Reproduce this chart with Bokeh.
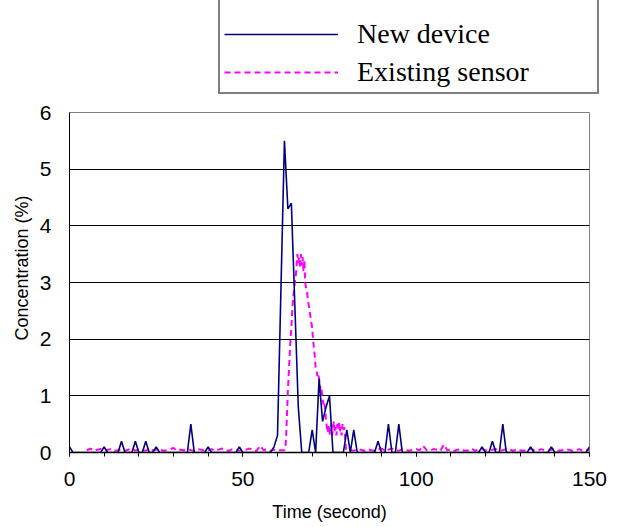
import numpy as np
from bokeh.plotting import figure
from bokeh.layouts import column, row
from bokeh.models import Range1d, Legend, LegendItem, FixedTicker, SingleIntervalTicker, Title
from bokeh.embed import file_html
from bokeh.resources import INLINE

# ---- data ----
# New device: one sample per second, t = 0..150
new_t = list(range(0, 151))
new_c = [
    0.1, 0, 0, 0, 0, 0, 0, 0, 0, 0,          # 0-9
    0.1, 0, 0, 0, 0, 0.2, 0, 0, 0, 0.2,      # 10-19
    0, 0, 0.2, 0, 0, 0.1, 0, 0, 0, 0,        # 20-29
    0, 0, 0, 0, 0, 0.5, 0, 0, 0, 0,          # 30-39
    0.1, 0, 0, 0, 0, 0, 0, 0, 0, 0.1,        # 40-49
    0, 0, 0, 0, 0, 0, 0, 0, 0, 0.1,          # 50-59
    0.3, 2.9, 5.5, 4.3, 4.4, 2.6, 0.8, 0, 0, 0,  # 60-69
    0.4, 0, 1.3, 0.55, 0.8, 1.0, 0, 0, 0, 0,     # 70-79
    0.4, 0, 0.4, 0, 0, 0, 0, 0, 0, 0.2,      # 80-89
    0, 0, 0.5, 0, 0, 0.5, 0, 0, 0, 0,        # 90-99
    0, 0, 0, 0, 0, 0, 0, 0, 0, 0,            # 100-109
    0, 0, 0, 0, 0, 0, 0, 0, 0, 0.1,          # 110-119
    0, 0, 0.2, 0, 0, 0.5, 0, 0, 0, 0,        # 120-129
    0, 0, 0, 0.1, 0, 0, 0, 0, 0, 0.1,        # 130-139
    0, 0, 0, 0, 0, 0, 0, 0, 0, 0,            # 140-149
    0.1,                                     # 150
]

# Existing sensor: baseline before the event (t = 5..61, 1 s)
ex_base1_t = list(range(5, 62))
ex_base1_c = [
    0.04, 0.07, 0.03, 0.05, 0.06, 0.03, 0.05, 0.06, 0.03, 0.04,
    0.06, 0.03, 0.05, 0.07, 0.03, 0.06, 0.04, 0.03, 0.06, 0.04,
    0.05, 0.07, 0.03, 0.04, 0.06, 0.08, 0.03, 0.05, 0.04, 0.06,
    0.04, 0.03, 0.06, 0.05, 0.03, 0.04, 0.06, 0.03, 0.05, 0.07,
    0.04, 0.03, 0.06, 0.04, 0.03, 0.06, 0.05, 0.07, 0.04, 0.03,
    0.12, 0.04, 0.06, 0.03, 0.05, 0.03, 0.04,
]
# Existing sensor: event (t = 62..80, every 0.25 s)
ex_peak_t = [62 + 0.25 * i for i in range(73)]
ex_peak_c = [
    0.04, 0.06, 0.3, 0.7, 1.1, 1.4, 1.7, 2.0, 2.2, 2.5,
    2.7, 2.85, 3.0, 3.1, 3.3, 3.5, 3.35, 3.45, 3.25, 3.5,
    3.3, 3.45, 3.2, 3.4, 3.0, 2.9, 2.85, 2.7, 2.6, 2.5,
    2.4, 2.3, 2.2, 2.0, 1.85, 1.7, 1.5, 1.45, 1.35, 1.4,
    1.3, 1.2, 1.05, 1.1, 0.95, 0.85, 0.9, 0.75, 0.55, 0.45,
    0.35, 0.5, 0.3, 0.45, 0.5, 0.3, 0.4, 0.55, 0.35, 0.45,
    0.3, 0.5, 0.4, 0.55, 0.35, 0.45, 0.3, 0.5, 0.4, 0.45,
    0.25, 0.06, 0.04,
]
# Existing sensor: baseline after the event (t = 81..150, 1 s)
ex_base2_t = list(range(81, 151))
ex_base2_c = [
    0.04, 0.03, 0.06, 0.05, 0.03, 0.06, 0.04, 0.03, 0.05, 0.07,
    0.03, 0.05, 0.07, 0.04, 0.03, 0.06, 0.04, 0.03, 0.05, 0.06,
    0.04, 0.12, 0.04, 0.03, 0.06, 0.05, 0.03, 0.14, 0.04, 0.06,
    0.03, 0.05, 0.06, 0.03, 0.04, 0.07, 0.03, 0.05, 0.06, 0.04,
    0.03, 0.05, 0.06, 0.03, 0.04, 0.06, 0.05, 0.03, 0.06, 0.04,
    0.03, 0.05, 0.07, 0.04, 0.03, 0.06, 0.04, 0.03, 0.05, 0.06,
    0.03, 0.04, 0.06, 0.05, 0.03, 0.04, 0.06, 0.03, 0.05, 0.04,
]

ex_t = ex_base1_t + ex_peak_t + ex_base2_t
ex_c = ex_base1_c + ex_peak_c + ex_base2_c

series_names = ["New device", "Existing sensor"]
x_label = "Time (second)"
y_label = "Concentration (%)"

NEW_STYLE = dict(line_color="#000080", line_width=1.6)
EX_STYLE = dict(line_color="#ff00ff", line_width=2, line_dash="6 4")

# ---- main chart ----
p = figure(width=612, height=425, output_backend="svg", toolbar_location=None,
           x_range=Range1d(0, 150), y_range=Range1d(0, 6),
           min_border_left=69, min_border_right=23, min_border_top=12, min_border_bottom=73)
p.background_fill_color = "white"
p.border_fill_color = "white"
p.outline_line_color = "#7f7f7f"
p.outline_line_width = 1

p.line(ex_t, ex_c, **EX_STYLE)
p.line(new_t, new_c, **NEW_STYLE)

xa = p.xaxis[0]
xa.ticker = FixedTicker(ticks=[0, 50, 100, 150], minor_ticks=list(range(0, 151, 10)))
xa.axis_line_color = "black"
xa.axis_line_width = 1.5
xa.major_tick_in = 0
xa.major_tick_out = 4
xa.minor_tick_in = 0
xa.minor_tick_out = 4
xa.major_tick_line_color = "black"
xa.minor_tick_line_color = "black"
xa.major_label_text_font = "Liberation Sans"
xa.major_label_text_font_size = "21px"
xa.major_label_text_color = "black"
xa.major_label_standoff = 15
xa.axis_label = x_label
xa.axis_label_text_font = "Liberation Sans"
xa.axis_label_text_font_size = "18px"
xa.axis_label_text_font_style = "normal"
xa.axis_label_text_color = "black"
xa.axis_label_standoff = 13

ya = p.yaxis[0]
ya.ticker = SingleIntervalTicker(interval=1, num_minor_ticks=0)
ya.axis_line_color = "black"
ya.axis_line_width = 1
ya.major_tick_in = 0
ya.major_tick_out = 0
ya.minor_tick_line_color = None
ya.major_label_text_font = "Liberation Sans"
ya.major_label_text_font_size = "21px"
ya.major_label_text_color = "black"
ya.major_label_standoff = 18

# y-axis title, placed a little above the middle as in the original
ytitle = Title(text=y_label, align="left", offset=112, standoff=10,
               text_font="Liberation Sans", text_font_size="18px",
               text_font_style="normal", text_color="black")
p.add_layout(ytitle, "left")

p.xgrid.grid_line_color = None
p.ygrid.grid_line_color = "black"
p.ygrid.grid_line_width = 1

# ---- legend strip above the chart (its lines lie outside its own view) ----
lf = figure(width=612, height=100, output_backend="svg", toolbar_location=None,
            x_range=Range1d(-200, -100), y_range=Range1d(100, 101),
            x_axis_location=None, y_axis_location=None,
            min_border_left=0, min_border_right=0, min_border_top=0, min_border_bottom=0)
lf.grid.grid_line_color = None
lf.outline_line_color = None
lf.background_fill_color = "white"
lf.border_fill_color = "white"
g_new = lf.line(new_t, new_c, **NEW_STYLE)
g_ex = lf.line(ex_t, ex_c, **EX_STYLE)

legend = Legend(items=[LegendItem(label=series_names[0], renderers=[g_new]),
                       LegendItem(label=series_names[1], renderers=[g_ex])],
                location=(218, 6), orientation="vertical")
legend.title = " "
legend.title_text_font_size = "8px"
legend.title_standoff = 5
legend.border_line_color = "black"
legend.border_line_width = 2
legend.background_fill_color = "white"
legend.background_fill_alpha = 1
legend.label_text_font = "Liberation Serif"
legend.label_text_font_size = "28px"
legend.label_text_color = "black"
legend.label_height = 32
legend.label_width = 236
legend.glyph_width = 114
legend.glyph_height = 20
legend.label_standoff = 19
legend.spacing = 6
legend.padding = 4
legend.margin = 0
lf.add_layout(legend, "center")

layout = column(row(lf), p, spacing=0)
open("out.html", "w").write(file_html(layout, INLINE))
